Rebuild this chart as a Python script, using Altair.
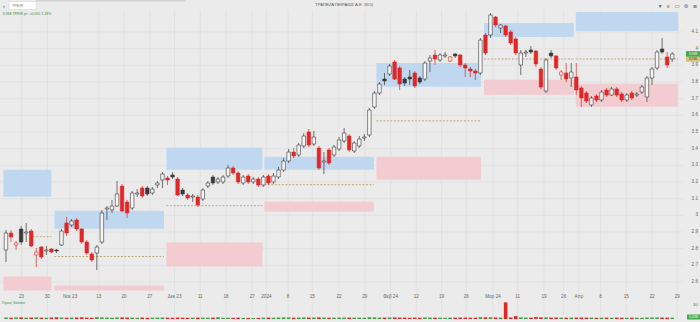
import altair as alt
import pandas as pd

# ---------------- data (prices in EUR, one entry per trading session) ----------------
opens = [2.792, 2.894, 2.822, 2.918, 2.894, 2.906, 2.762, 2.810, 2.786, 2.798,
         2.792, 2.822, 2.954, 2.942, 2.972, 2.918, 2.840, 2.768, 2.774, 2.840,
         3.038, 3.032, 3.056, 3.176, 3.080, 3.044, 3.128, 3.164, 3.164, 3.134,
         3.182, 3.212, 3.224, 3.242, 3.218, 3.152, 3.122, 3.110, 3.110, 3.098,
         3.176, 3.230, 3.200, 3.200, 3.236, 3.284, 3.254, 3.194, 3.236, 3.200,
         3.218, 3.182, 3.236, 3.200, 3.230, 3.272, 3.326, 3.380, 3.362, 3.416,
         3.500, 3.428, 3.404, 3.320, 3.392, 3.362, 3.398, 3.446, 3.476, 3.386,
         3.416, 3.464, 3.482, 3.650, 3.734, 3.818, 3.848, 3.920, 3.884, 3.818,
         3.830, 3.854, 3.824, 3.818, 3.926, 3.962, 3.932, 3.956, 3.926, 3.968,
         3.962, 3.902, 3.878, 3.866, 3.854, 4.082, 4.082, 4.190, 4.124, 4.136,
         4.100, 4.058, 3.902, 3.974, 3.992, 3.986, 3.878, 3.746, 3.974, 3.956,
         3.842, 3.854, 3.824, 3.830, 3.764, 3.734, 3.662, 3.716, 3.692, 3.752,
         3.722, 3.758, 3.728, 3.692, 3.734, 3.722, 3.740, 3.710, 3.824, 3.884,
         3.998, 3.950, 3.938]
highs = [2.912, 2.912, 2.846, 2.936, 2.954, 2.918, 2.804, 2.816, 2.816, 2.804,
         2.798, 2.918, 2.990, 2.978, 2.984, 2.924, 2.852, 2.780, 2.822, 3.032,
         3.056, 3.092, 3.206, 3.188, 3.092, 3.146, 3.158, 3.176, 3.176, 3.170,
         3.206, 3.260, 3.236, 3.260, 3.230, 3.164, 3.134, 3.128, 3.122, 3.164,
         3.206, 3.242, 3.230, 3.242, 3.302, 3.296, 3.266, 3.242, 3.248, 3.230,
         3.230, 3.242, 3.248, 3.254, 3.290, 3.344, 3.398, 3.404, 3.434, 3.494,
         3.518, 3.506, 3.416, 3.380, 3.404, 3.422, 3.470, 3.524, 3.488, 3.446,
         3.476, 3.488, 3.644, 3.746, 3.800, 3.854, 3.908, 3.932, 3.896, 3.830,
         3.872, 3.866, 3.836, 3.926, 3.962, 3.992, 3.974, 3.980, 3.956, 3.974,
         3.968, 3.914, 3.890, 3.878, 4.064, 4.094, 4.214, 4.196, 4.148, 4.142,
         4.112, 4.070, 3.992, 3.992, 4.016, 3.992, 3.890, 3.944, 3.992, 3.962,
         3.872, 3.914, 3.914, 3.914, 3.776, 3.746, 3.716, 3.728, 3.752, 3.764,
         3.770, 3.770, 3.740, 3.734, 3.746, 3.740, 3.782, 3.836, 3.890, 3.992,
         4.064, 3.980, 3.980]
lows = [2.720, 2.840, 2.792, 2.822, 2.840, 2.810, 2.690, 2.738, 2.762, 2.774,
        2.774, 2.816, 2.876, 2.930, 2.906, 2.828, 2.762, 2.720, 2.672, 2.828,
        2.972, 3.014, 3.050, 3.020, 2.984, 3.032, 3.110, 3.104, 3.116, 3.122,
        3.164, 3.164, 3.182, 3.218, 3.116, 3.116, 3.092, 3.080, 3.050, 3.086,
        3.164, 3.182, 3.188, 3.188, 3.224, 3.242, 3.188, 3.182, 3.188, 3.188,
        3.170, 3.170, 3.182, 3.188, 3.218, 3.260, 3.314, 3.344, 3.350, 3.404,
        3.410, 3.416, 3.272, 3.248, 3.302, 3.350, 3.386, 3.434, 3.380, 3.374,
        3.404, 3.446, 3.470, 3.638, 3.722, 3.782, 3.836, 3.812, 3.752, 3.776,
        3.782, 3.764, 3.788, 3.806, 3.860, 3.902, 3.920, 3.944, 3.920, 3.944,
        3.890, 3.830, 3.830, 3.812, 3.842, 3.962, 4.064, 4.130, 4.094, 4.070,
        4.022, 3.962, 3.842, 3.950, 3.968, 3.890, 3.758, 3.734, 3.944, 3.872,
        3.812, 3.800, 3.770, 3.722, 3.650, 3.674, 3.650, 3.680, 3.680, 3.710,
        3.716, 3.710, 3.680, 3.680, 3.692, 3.710, 3.728, 3.680, 3.782, 3.872,
        3.968, 3.884, 3.920]
closes = [2.894, 2.870, 2.834, 2.840, 2.900, 2.816, 2.780, 2.750, 2.792, 2.780,
          2.786, 2.906, 2.894, 2.966, 2.918, 2.840, 2.774, 2.732, 2.810, 3.014,
          3.044, 3.056, 3.128, 3.026, 3.014, 3.134, 3.134, 3.116, 3.128, 3.158,
          3.194, 3.248, 3.212, 3.230, 3.122, 3.128, 3.104, 3.116, 3.062, 3.152,
          3.194, 3.194, 3.218, 3.230, 3.284, 3.254, 3.200, 3.230, 3.200, 3.218,
          3.182, 3.230, 3.194, 3.236, 3.272, 3.326, 3.380, 3.356, 3.422, 3.476,
          3.422, 3.470, 3.284, 3.326, 3.314, 3.410, 3.452, 3.494, 3.392, 3.434,
          3.458, 3.470, 3.632, 3.734, 3.788, 3.806, 3.896, 3.818, 3.788, 3.794,
          3.818, 3.776, 3.800, 3.914, 3.944, 3.938, 3.962, 3.962, 3.950, 3.956,
          3.902, 3.884, 3.866, 3.854, 4.052, 3.974, 4.202, 4.142, 4.142, 4.082,
          4.034, 3.974, 3.974, 3.980, 3.980, 3.908, 3.770, 3.932, 3.956, 3.884,
          3.860, 3.818, 3.860, 3.752, 3.704, 3.686, 3.704, 3.692, 3.740, 3.722,
          3.758, 3.722, 3.692, 3.722, 3.704, 3.728, 3.770, 3.824, 3.878, 3.980,
          3.980, 3.902, 3.968]
volumes = [3.1, 2.6, 2.9, 3.4, 2.7, 3.0, 3.3, 2.8, 2.5, 3.2,
           3.6, 3.0, 2.7, 2.9, 3.1, 3.5, 2.8, 2.6, 3.8, 3.4,
           3.0, 2.7, 3.2, 3.3, 2.9, 2.8, 2.5, 3.0, 2.6, 2.7,
           2.9, 3.1, 2.8, 2.6, 3.0, 2.7, 2.5, 2.6, 2.9, 2.8,
           2.7, 2.9, 3.6, 2.4, 2.6, 2.5, 2.8, 2.2, 2.3, 2.1,
           2.4, 2.7, 2.9, 2.6, 3.0, 3.3, 3.1, 2.8, 3.0, 3.2,
           3.1, 2.9, 3.4, 3.0, 2.8, 2.7, 3.0, 3.1, 2.9, 2.7,
           2.8, 2.6, 3.6, 3.4, 3.0, 2.9, 3.1, 3.3, 3.0, 2.8,
           2.6, 2.9, 2.7, 3.2, 3.0, 2.8, 2.7, 2.6, 2.9, 2.8,
           3.0, 2.9, 2.7, 2.8, 3.8, 3.5, 3.6, 3.2, 3.0, 35.0,
           3.4, 6.0, 3.3, 3.0, 2.9, 4.0, 3.4, 3.3, 3.0, 3.1,
           2.8, 2.7, 2.9, 3.0, 3.1, 2.9, 2.8, 2.6, 2.7, 2.8,
           2.6, 2.9, 2.7, 2.6, 2.8, 2.7, 2.6, 3.0, 3.1, 3.2,
           3.0, 2.9, 2.7]

# x-axis ticks (session positions) and their labels
tick_pos = [3.1, 8.2, 12.7, 18.4, 23.4, 28.5, 33.4, 38.5, 43.6, 48.8, 51.6, 55.9,
            60.7, 66.0, 71.1, 76.2, 81.3, 86.3, 91.2, 96.5, 101.4, 106.6, 110.5,
            113.5, 117.8, 122.9, 128.0, 133.0]
tick_labels = ["23", "30", "Νοε 23", "13", "20", "27", "Δεκ 23", "11", "18", "27",
               "2024", "8", "15", "22", "29", "Φεβ 24", "12", "19", "26", "Μαρ 24",
               "11", "19", "26", "Απρ", "8", "15", "22", "29"]

# price axis
price_ticks = [4.1, 4.0, 3.9, 3.8, 3.7, 3.6, 3.5, 3.4, 3.3, 3.2, 3.1, 3.0, 2.9, 2.8, 2.7, 2.6]
price_labels = ["4.1", "4", "3.9", "3.8", "3.7", "3.6", "3.5", "3.4", "3.3", "3.2",
                "3.1", "3", "2.9", "2.8", "2.7", "2.6"]

# monthly zones
zone_start = [-0.5, 9.6, 31.8, 51.2, 73.4, 94.7, 112.9]
zone_end = [9.0, 31.3, 50.8, 72.9, 94.1, 112.5, 133.2]
blue_top = [3.274, 3.028, 3.405, 3.352, 3.914, 4.154, 4.220]
blue_bot = [3.112, 2.920, 3.274, 3.274, 3.771, 4.070, 4.106]
pink_top = [2.633, 2.579, 2.837, 3.082, 3.352, 3.813, 3.789]
pink_bot = [2.549, 2.549, 2.693, 3.022, 3.214, 3.723, 3.651]
mid_start = [5.3, 9.6, 31.8, 51.2, 73.4, 94.7, 112.9]
mid_level = [2.872, 2.753, 3.058, 3.184, 3.567, 3.938, 3.938]

# price badges on the right edge (last price and reference level)
badge_top = [3.985, 3.951]
badge_bot = [3.951, 3.921]
badge_text = ["3,968", "3,936"]

# ---------------- frames ----------------
RED, DARK, HOLLOW = "#e02727", "#3a3a3a", "#f6f6f6"
df = pd.DataFrame({"i": range(len(opens)), "o": opens, "h": highs, "l": lows,
                   "c": closes, "v": volumes})
prev = df["c"].shift(1).fillna(df["o"])
up = df["c"] >= df["o"]
higher = df["c"] >= prev
df["col"] = [DARK if hb else RED for hb in higher]
df["fill"] = [HOLLOW if u else col for u, col in zip(up, df["col"])]
df["vcol"] = ["#3f9a40" if u else RED for u in up]
df["zero"] = 0.0

zones = pd.DataFrame({"s": zone_start, "e": zone_end, "bt": blue_top, "bb": blue_bot,
                      "pt": pink_top, "pb": pink_bot, "ms": mid_start, "m": mid_level})
ticks = pd.DataFrame({"pos": tick_pos, "lab": tick_labels})
pticks = pd.DataFrame({"p": price_ticks, "lab": price_labels})
last = pd.DataFrame({"top": badge_top, "bot": badge_bot, "txt": badge_text,
                     "fillc": ["#49a84a", "#d8c27c"], "tc": ["white", "#333333"]})
one = pd.DataFrame({"k": [0]})
icons = pd.DataFrame({"px": [660, 668, 677, 686, 695], "g": ["▾", "ıı", "▭", "⊜", "≡"]})

FONT = "Liberation Sans"
xs = alt.Scale(domain=[-0.195, 136.52], nice=False, zero=False)
ys = alt.Scale(domain=[2.360, 4.292], nice=False, zero=False)
vs = alt.Scale(domain=[-6.316, 671.58], nice=False, zero=False)
GRID = "#dbdbdb"


def X(f):
    return alt.X(f, scale=xs, axis=None)


def Y(f):
    return alt.Y(f, scale=ys, axis=None)


vgrid = alt.Chart(ticks).mark_rule(color=GRID, strokeWidth=0.6).encode(
    x=X("pos:Q"), y=alt.value(10), y2=alt.value(320))
hgrid = alt.Chart(pticks).mark_rule(color=GRID, strokeWidth=0.6).encode(
    y=Y("p:Q"), x=alt.value(0), x2=alt.value(683))

blue = alt.Chart(zones).mark_rect(color="#bfd7ef").encode(
    x=X("s:Q"), x2="e:Q", y=Y("bt:Q"), y2="bb:Q")
pink = alt.Chart(zones).mark_rect(color="#f2ccd1").encode(
    x=X("s:Q"), x2="e:Q", y=Y("pt:Q"), y2="pb:Q")
mid = alt.Chart(zones).mark_rule(color="#b39a5e", strokeWidth=0.8, strokeDash=[2, 1.5]).encode(
    x=X("ms:Q"), x2="e:Q", y=Y("m:Q"))

wick = alt.Chart(df).mark_rule(strokeWidth=0.7).encode(
    x=X("i:Q"), y=Y("l:Q"), y2="h:Q", color=alt.Color("col:N", scale=None))
body = alt.Chart(df).mark_bar(size=3.5, strokeWidth=0.6).encode(
    x=X("i:Q"), y=Y("o:Q"), y2="c:Q",
    fill=alt.Fill("fill:N", scale=None), stroke=alt.Stroke("col:N", scale=None))

xlab = alt.Chart(ticks).mark_text(fontSize=4.6, color="#666666", font=FONT).encode(
    x=X("pos:Q"), y=alt.value(297), text="lab:N")
ylab = alt.Chart(pticks).mark_text(fontSize=4.6, color="#666666", font=FONT, align="right").encode(
    y=Y("p:Q"), x=alt.value(698), text="lab:N")

badge = alt.Chart(last).mark_rect().encode(
    x=alt.value(686), x2=alt.value(700), y=Y("top:Q"), y2="bot:Q",
    fill=alt.Fill("fillc:N", scale=None))
badge_t = alt.Chart(last).transform_calculate(mid_y="(datum.top + datum.bot) / 2").mark_text(
    fontSize=3.4, font=FONT).encode(
    x=alt.value(693), y=Y("mid_y:Q"), text="txt:N", color=alt.Color("tc:N", scale=None))

scroll = alt.Chart(one).mark_rect(color="#d3d3d3").encode(
    x=alt.value(36), x2=alt.value(186), y=alt.value(0), y2=alt.value(1.5))
box = alt.Chart(one).mark_rect(fill="white", stroke="#cfcfcf", strokeWidth=0.5).encode(
    x=alt.value(9), x2=alt.value(36), y=alt.value(1.5), y2=alt.value(9.5))
back_t = alt.Chart(one).mark_text(fontSize=6, color="#555555", font=FONT).encode(
    x=alt.value(4), y=alt.value(5.5), text=alt.value("‹"))
sym_t = alt.Chart(one).mark_text(fontSize=3.8, color="#777777", font=FONT, align="left").encode(
    x=alt.value(12), y=alt.value(5.6), text=alt.value("TPEIR"))
title_t = alt.Chart(one).mark_text(fontSize=4.2, color="#555555", font=FONT).encode(
    x=alt.value(344), y=alt.value(5.2), text=alt.value("ΤΡΑΠΕΖΑ ΠΕΙΡΑΙΩΣ Α.Ε. (ΚΟ)"))
info_t = alt.Chart(one).mark_text(fontSize=3.6, color="#3f8c3f", font=FONT, align="left").encode(
    x=alt.value(2.5), y=alt.value(13.5), text=alt.value("3,968 TPEIR pr: +0,050 1,28%"))
icon_t = alt.Chart(icons).mark_text(fontSize=5.5, color="#555555", font="DejaVu Sans").encode(
    x=alt.X("px:Q", scale=None), y=alt.value(5.5), text="g:N")

vol = alt.Chart(df).mark_bar(size=3.6).encode(
    x=X("i:Q"), y=alt.Y("v:Q", scale=vs, axis=None), y2="zero:Q",
    fill=alt.Fill("vcol:N", scale=None))
vol_t = alt.Chart(one).mark_text(fontSize=3.6, color="#3f8c3f", font=FONT, align="left").encode(
    x=alt.value(2), y=alt.value(302.5), text=alt.value("Όγκος Volume"))
vol_ax = alt.Chart(one).mark_text(fontSize=4.4, color="#666666", font=FONT, align="right").encode(
    x=alt.value(698), y=alt.value(304.5), text=alt.value("30"))
vbadge = alt.Chart(one).mark_rect(fill="#49a84a").encode(
    x=alt.value(687), x2=alt.value(700), y=alt.value(314.5), y2=alt.value(319.5))
vbadge_t = alt.Chart(one).mark_text(fontSize=3.2, color="white", font=FONT).encode(
    x=alt.value(693.5), y=alt.value(317), text=alt.value("0,42M"))

price_part = alt.layer(vgrid, hgrid, blue, pink, mid, wick, body, xlab, ylab, badge, badge_t,
                       scroll, box, back_t, sym_t, title_t, info_t, icon_t, vol_t, vol_ax,
                       vbadge, vbadge_t)
volume_part = alt.layer(vol)

chart = alt.layer(price_part, volume_part).resolve_scale(y="independent").properties(
    width=700, height=322, padding=0,
    autosize=alt.AutoSizeParams(type="none"),
    background="#ebebeb",
).configure_view(stroke=None, fill="#ebebeb")

chart.save("out.html", embed_options={"renderer": "svg", "actions": False})
